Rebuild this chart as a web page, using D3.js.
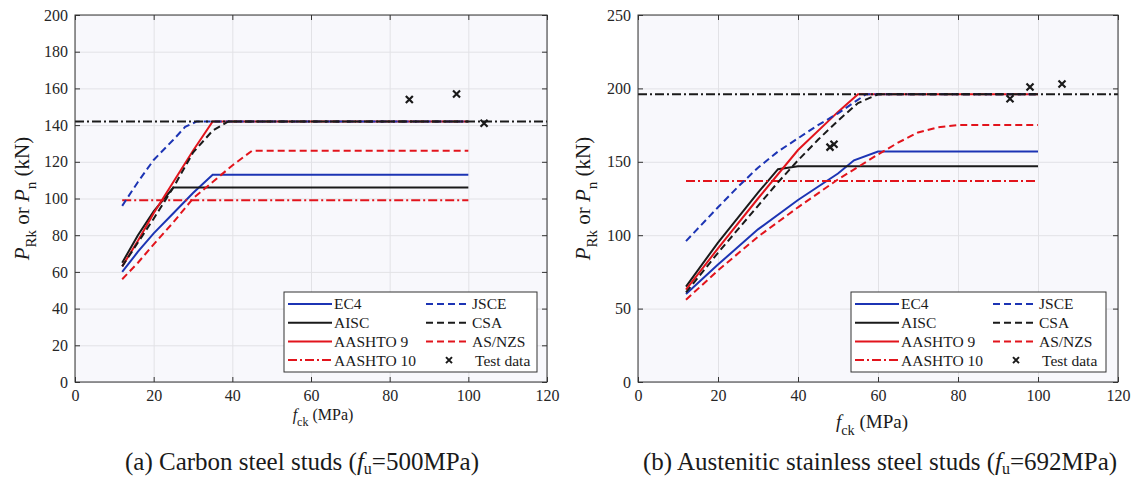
<!DOCTYPE html>
<html>
<head>
<meta charset="utf-8">
<script src="https://cdn.jsdelivr.net/npm/d3@7"></script>
<style>
  body { margin: 0; background: #fff; }
  svg, svg text { font-family: "Times New Roman", "Liberation Serif", serif; }
</style>
</head>
<body>
<svg id="chart" width="1133" height="479"></svg>
<script>
// ---- (a) carbon steel studs, fu = 500 MPa  [fck (MPa), P (kN)]
const carbonEC4      = [[12, 60], [16, 71], [20, 81], [25, 92], [30, 103], [35, 113], [100, 113]];
const carbonAISC     = [[12, 65], [16, 80], [20, 93], [25, 106], [100, 106]];
const carbonAASHTO9  = [[12, 63], [16, 77], [20, 92], [25, 109], [30, 126], [35, 142], [100, 142]];
const carbonAASHTO10 = [[12, 99], [100, 99]];
const carbonJSCE     = [[12, 96], [16, 109], [20, 121], [25, 132], [28, 139], [31, 142], [100, 142]];
const carbonCSA      = [[12, 63], [16, 76], [20, 89], [25, 106], [30, 125], [35, 137], [39, 142], [100, 142]];
const carbonASNZS    = [[12, 56], [16, 65], [20, 75], [25, 87], [30, 100], [35, 109], [40, 118], [45, 126], [100, 126]];
const carbonTest     = [[85, 154], [97, 157], [104, 141]];
const carbonLimit    = 142;

// ---- (b) austenitic stainless steel studs, fu = 692 MPa
const stainlessEC4      = [[12, 60], [20, 80], [30, 104], [40, 124], [50, 142], [54, 151], [60, 157], [100, 157]];
const stainlessAISC     = [[12, 65], [20, 95], [25, 112], [30, 129], [35, 145], [40, 147], [100, 147]];
const stainlessAASHTO9  = [[12, 63], [20, 91], [30, 125], [40, 158], [50, 184], [55, 196], [100, 196]];
const stainlessAASHTO10 = [[12, 137], [100, 137]];
const stainlessJSCE     = [[12, 96], [20, 119], [25, 133], [30, 146], [35, 157], [40, 166], [45, 175], [50, 183], [57, 196], [100, 196]];
const stainlessCSA      = [[12, 61], [20, 88], [30, 120], [35, 136], [40, 151], [45, 165], [50, 178], [55, 190], [60, 196], [100, 196]];
const stainlessASNZS    = [[12, 56], [20, 76], [30, 99], [40, 119], [50, 138], [60, 155], [65, 163], [70, 170], [75, 173.5], [80, 175], [100, 175]];
const stainlessTest     = [[48, 160], [49, 162], [93, 193], [98, 201], [106, 203]];
const stainlessLimit    = 196;

const xTicks = [0, 20, 40, 60, 80, 100, 120];
const carbonYTicks = [0, 20, 40, 60, 80, 100, 120, 140, 160, 180, 200];
const stainlessYTicks = [0, 50, 100, 150, 200, 250];

const seriesNames = ["EC4", "AISC", "AASHTO 9", "AASHTO 10", "JSCE", "CSA", "AS/NZS"];

// styles
const FONT = '"Times New Roman", "Liberation Serif", serif';
const BLUE = "#1c34b4", BLACK = "#1a1a1a", RED = "#e2141c";
const DASH = "7,4", DASHDOT = "9,3,2,3";
const styles = {
  "EC4":       { color: BLUE,  dash: null },
  "AISC":      { color: BLACK, dash: null },
  "AASHTO 9":  { color: RED,   dash: null },
  "AASHTO 10": { color: RED,   dash: DASHDOT },
  "JSCE":      { color: BLUE,  dash: DASH },
  "CSA":       { color: BLACK, dash: DASH },
  "AS/NZS":    { color: RED,   dash: DASH }
};

const svg = d3.select("#chart");

function drawPanel(cfg) {
  const g = svg.append("g");
  const x = d3.scaleLinear().domain([0, 120]).range([cfg.left, cfg.right]);
  const y = d3.scaleLinear().domain([0, cfg.yMax]).range([cfg.bottom, cfg.top]);
  const w = cfg.right - cfg.left, h = cfg.bottom - cfg.top;

  g.append("rect")
    .attr("x", cfg.left).attr("y", cfg.top)
    .attr("width", w).attr("height", h)
    .attr("fill", "#f8f8fc");

  // grid
  g.append("g")
    .attr("transform", `translate(0,${cfg.bottom})`)
    .call(d3.axisBottom(x).tickValues(xTicks).tickSize(-h).tickFormat(""))
    .call(s => s.select(".domain").remove())
    .selectAll("line").attr("stroke", "#e2e2e6");
  g.append("g")
    .attr("transform", `translate(${cfg.left},0)`)
    .call(d3.axisLeft(y).tickValues(cfg.yTicks).tickSize(-w).tickFormat(""))
    .call(s => s.select(".domain").remove())
    .selectAll("line").attr("stroke", "#e2e2e6");

  // series
  const line = d3.line().x(d => x(d[0])).y(d => y(d[1]));
  seriesNames.forEach((name, i) => {
    g.append("path")
      .datum(cfg.series[i])
      .attr("d", line)
      .attr("fill", "none")
      .attr("stroke", styles[name].color)
      .attr("stroke-width", 2)
      .attr("stroke-dasharray", styles[name].dash);
  });

  // limit line over full x range
  g.append("path")
    .datum([[0, cfg.limit], [120, cfg.limit]])
    .attr("d", line)
    .attr("fill", "none")
    .attr("stroke", BLACK)
    .attr("stroke-width", 2)
    .attr("stroke-dasharray", DASHDOT);

  // test data
  const m = 3.5;
  g.selectAll(".test")
    .data(cfg.test)
    .enter()
    .append("path")
    .attr("class", "test")
    .attr("d", d => `M${x(d[0]) - m},${y(d[1]) - m}L${x(d[0]) + m},${y(d[1]) + m}M${x(d[0]) - m},${y(d[1]) + m}L${x(d[0]) + m},${y(d[1]) - m}`)
    .attr("stroke", BLACK)
    .attr("stroke-width", 2.2);

  // axes with inward ticks
  const styleAxis = s => {
    s.attr("font-family", FONT).attr("font-size", 16);
    s.select(".domain").remove();
    s.selectAll("line").attr("stroke", "#333");
    s.selectAll("text").attr("fill", "#262626");
  };
  g.append("g").attr("transform", `translate(0,${cfg.bottom})`)
    .call(d3.axisBottom(x).tickValues(xTicks).tickSize(-5).tickPadding(8)).call(styleAxis);
  g.append("g").attr("transform", `translate(0,${cfg.top})`)
    .call(d3.axisTop(x).tickValues(xTicks).tickSize(-5).tickFormat("")).call(styleAxis);
  g.append("g").attr("transform", `translate(${cfg.left},0)`)
    .call(d3.axisLeft(y).tickValues(cfg.yTicks).tickSize(-5).tickPadding(7)).call(styleAxis);
  g.append("g").attr("transform", `translate(${cfg.right},0)`)
    .call(d3.axisRight(y).tickValues(cfg.yTicks).tickSize(-5).tickFormat("")).call(styleAxis);

  g.append("rect")
    .attr("x", cfg.left).attr("y", cfg.top)
    .attr("width", w).attr("height", h)
    .attr("fill", "none").attr("stroke", "#333").attr("stroke-width", 1);

  // legend
  const L = cfg.legend;
  const lg = g.append("g").attr("font-family", FONT).attr("font-size", 15.5);
  lg.append("rect")
    .attr("x", L.x).attr("y", L.y).attr("width", L.w).attr("height", L.h)
    .attr("fill", "#fff").attr("stroke", "#333").attr("stroke-width", 1);
  const entries = seriesNames.slice(0, 4).map((n, i) => ({ name: n, col: 0, row: i }))
    .concat(seriesNames.slice(4).map((n, i) => ({ name: n, col: 1, row: i })));
  entries.forEach(e => {
    const ly = L.y + 12 + e.row * 18.7;
    const lx = e.col === 0 ? L.x + 4 : L.x + 142;
    lg.append("line")
      .attr("x1", lx).attr("x2", lx + 44).attr("y1", ly).attr("y2", ly)
      .attr("stroke", styles[e.name].color).attr("stroke-width", 2)
      .attr("stroke-dasharray", styles[e.name].dash);
    lg.append("text")
      .attr("x", lx + 46).attr("y", ly).attr("dy", "0.35em")
      .attr("fill", "#1a1a1a")
      .text(e.name);
  });
  const ty = L.y + 12 + 3 * 18.7, tx = L.x + 165;
  lg.append("path")
    .attr("d", `M${tx - 3},${ty - 3}L${tx + 3},${ty + 3}M${tx - 3},${ty + 3}L${tx + 3},${ty - 3}`)
    .attr("stroke", BLACK).attr("stroke-width", 2);
  lg.append("text")
    .attr("x", L.x + 191).attr("y", ty).attr("dy", "0.35em")
    .attr("fill", "#1a1a1a")
    .text("Test data");

  // y label
  const yl = svg.append("text")
    .attr("transform", `translate(${cfg.yLabelX},${(cfg.top + cfg.bottom) / 2}) rotate(-90)`)
    .attr("text-anchor", "middle")
    .attr("font-family", FONT).attr("font-size", 21).attr("fill", "#1a1a1a");
  yl.append("tspan").style("font-style", "italic").text("P");
  yl.append("tspan").attr("dy", 7).attr("font-size", 15).text("Rk");
  yl.append("tspan").attr("dy", -7).text(" or ");
  yl.append("tspan").style("font-style", "italic").text("P");
  yl.append("tspan").attr("dy", 7).attr("font-size", 15).text("n");
  yl.append("tspan").attr("dy", -7).text(" (kN)");

  // x label
  const xl = svg.append("text")
    .attr("x", cfg.xLabel.x).attr("y", cfg.xLabel.y)
    .attr("text-anchor", "middle")
    .attr("font-family", FONT).attr("font-size", cfg.xLabel.size).attr("fill", "#1a1a1a");
  xl.append("tspan").style("font-style", "italic").text("f");
  xl.append("tspan").attr("dy", cfg.xLabel.size * 0.35).attr("font-size", cfg.xLabel.size * 0.75).text("ck");
  xl.append("tspan").attr("dy", -cfg.xLabel.size * 0.35).text(" (MPa)");

  // caption
  const cp = svg.append("text")
    .attr("x", cfg.caption.x).attr("y", 470)
    .attr("text-anchor", "middle")
    .attr("font-family", FONT).attr("font-size", 25).attr("fill", "#1a1a1a");
  cp.append("tspan").text(cfg.caption.pre);
  cp.append("tspan").style("font-style", "italic").text("f");
  cp.append("tspan").attr("dy", 4).attr("font-size", 16).text("u");
  cp.append("tspan").attr("dy", -4).text(cfg.caption.post);
}

drawPanel({
  left: 75, right: 547, top: 15, bottom: 382, yMax: 200, yTicks: carbonYTicks,
  series: [carbonEC4, carbonAISC, carbonAASHTO9, carbonAASHTO10, carbonJSCE, carbonCSA, carbonASNZS],
  test: carbonTest, limit: carbonLimit,
  legend: { x: 284, y: 292, w: 253, h: 80 },
  yLabelX: 29,
  xLabel: { x: 323, y: 420, size: 16 },
  caption: { x: 302, pre: "(a) Carbon steel studs (", post: "=500MPa)" }
});

drawPanel({
  left: 638, right: 1118, top: 15, bottom: 382, yMax: 250, yTicks: stainlessYTicks,
  series: [stainlessEC4, stainlessAISC, stainlessAASHTO9, stainlessAASHTO10, stainlessJSCE, stainlessCSA, stainlessASNZS],
  test: stainlessTest, limit: stainlessLimit,
  legend: { x: 851, y: 292, w: 255, h: 80 },
  yLabelX: 590,
  xLabel: { x: 872, y: 428, size: 19 },
  caption: { x: 880, pre: "(b) Austenitic stainless steel studs (", post: "=692MPa)" }
});
</script>
</body>
</html>
